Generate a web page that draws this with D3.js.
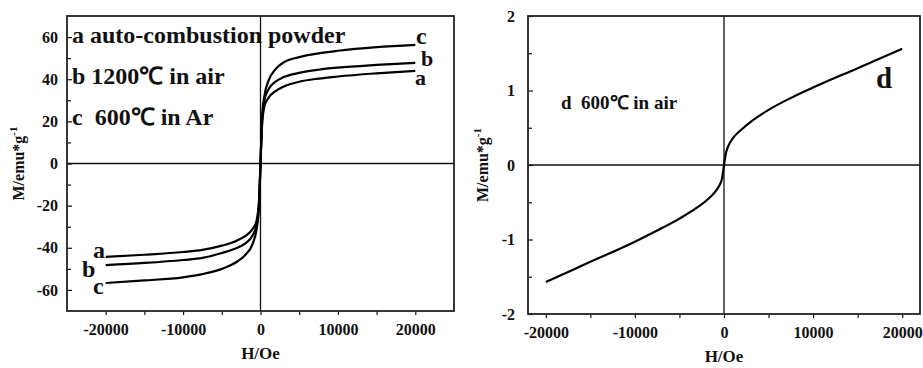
<!DOCTYPE html>
<html><head><meta charset="utf-8">
<script src="https://cdn.jsdelivr.net/npm/d3@7"></script>
<style>
html,body{margin:0;padding:0;background:#fff;}
svg text{font-family:"Liberation Serif","Times New Roman",serif !important;font-weight:bold;fill:#111;}
</style></head>
<body>
<svg id="chart" width="923" height="368"></svg>
<script>
// ---- data ----
const fieldH = [-20000,-15000,-10000,-7500,-5000,-3000,-2000,-1000,-500,-200,0,200,500,1000,2000,3000,5000,7500,10000,15000,20000];
const curveA = [-44.3,-43.3,-42,-41,-39,-36.5,-34.5,-31,-27,-18,0,18,27,31,34.5,36.5,38.8,40.3,41.3,42.8,44];
const curveB = [-48.2,-47.2,-45.8,-44.8,-42.5,-40,-38,-34,-29,-20,0,20,30,35,39,41,43,44.5,45.5,46.8,47.8];
const curveC = [-56.7,-55.5,-54,-52.5,-50,-46.5,-43.5,-38,-31,-21,0,22,32,39,45,48,50.5,52.3,53.5,55.2,56.3];
const curveD = [-1.57,-1.30,-1.03,-0.88,-0.72,-0.57,-0.48,-0.36,-0.27,-0.17,0,0.15,0.26,0.36,0.48,0.58,0.74,0.90,1.04,1.30,1.56];
const xTicks = [-20000,-10000,0,10000,20000];
const xMinor = [-15000,-5000,5000,15000];
const yTicksLeft = [-60,-40,-20,0,20,40,60];
const yMinorLeft = [-50,-30,-10,10,30,50];
const yTicksRight = [-2,-1,0,1,2];
const yMinorRight = [-1.5,-0.5,0.5,1.5];
const legendLeft = ["a auto-combustion powder","b 1200℃ in air","c\u00a0\u00a0600℃ in Ar"];
const legendRight = "d\u00a0\u00a0600℃ in air";

const svg = d3.select("#chart");
const fmt = d => String(d);

function panel(cfg){
  const g = svg.append("g");
  const x = d3.scaleLinear().domain(cfg.xDom).range([cfg.left, cfg.right]);
  const y = d3.scaleLinear().domain(cfg.yDom).range([cfg.bottom, cfg.top]);
  // zero lines
  g.append("line").attr("x1",x(0)).attr("x2",x(0)).attr("y1",cfg.top).attr("y2",cfg.bottom)
    .attr("stroke","#111").attr("stroke-width",1.3);
  g.append("line").attr("x1",cfg.left).attr("x2",cfg.right).attr("y1",y(0)).attr("y2",y(0))
    .attr("stroke","#111").attr("stroke-width",1.3);
  // x axis
  const xa = g.append("g").attr("transform",`translate(0,${cfg.bottom})`)
    .call(d3.axisBottom(x).tickValues(cfg.xTicks).tickSize(4).tickPadding(9).tickFormat(fmt));
  xa.attr("font-family",null);
  xa.select(".domain").remove();
  xa.selectAll("line").attr("stroke","#111").attr("stroke-width",1.2);
  xa.selectAll("text").style("font-size","16px");
  const xm = g.append("g").attr("transform",`translate(0,${cfg.bottom})`)
    .call(d3.axisBottom(x).tickValues(cfg.xMinor).tickSize(4).tickFormat(""));
  xm.select(".domain").remove();
  xm.selectAll("line").attr("stroke","#111").attr("stroke-width",1.2);
  // y axis
  const ya = g.append("g").attr("transform",`translate(${cfg.left},0)`)
    .call(d3.axisLeft(y).tickValues(cfg.yTicks).tickSize(-5).tickPadding(cfg.yPad).tickFormat(fmt));
  ya.attr("font-family",null);
  ya.select(".domain").remove();
  ya.selectAll("line").attr("stroke","#111").attr("stroke-width",1.2);
  ya.selectAll("text").style("font-size","16px");
  const ym = g.append("g").attr("transform",`translate(${cfg.left},0)`)
    .call(d3.axisLeft(y).tickValues(cfg.yMinor).tickSize(-4).tickFormat(""));
  ym.select(".domain").remove();
  ym.selectAll("line").attr("stroke","#111").attr("stroke-width",1.2);
  // frame
  g.append("rect").attr("x",cfg.left).attr("y",cfg.top).attr("width",cfg.right-cfg.left)
    .attr("height",cfg.bottom-cfg.top).attr("fill","none").attr("stroke","#222").attr("stroke-width",1.8);
  // curves
  const line = d3.line().x((d,i)=>x(fieldH[i])).y(d=>y(d)).curve(d3.curveMonotoneX);
  cfg.series.forEach(s=>{
    g.append("path").datum(s).attr("d",line).attr("fill","none").attr("stroke","#000").attr("stroke-width",2.2);
  });
  // axis titles
  g.append("text").attr("x",x(0)).attr("y",cfg.xTitleY).attr("text-anchor","middle")
    .style("font-size","17px").text("H/Oe");
  const yt = g.append("text").attr("transform",`translate(${cfg.yTitleX},${(cfg.top+cfg.bottom)/2}) rotate(-90)`)
    .attr("text-anchor","middle").style("font-size","16px");
  yt.append("tspan").text("M/emu*g");
  yt.append("tspan").attr("dy",-7).style("font-size","11px").text("-1");
  return {g,x,y};
}

const L = panel({left:67,right:454,top:16,bottom:311,xDom:[-25000,25000],yDom:[-70,70],yPad:9,
  xTicks,xMinor,yTicks:yTicksLeft,yMinor:yMinorLeft,series:[curveA,curveB,curveC],xTitleY:359,yTitleX:24});
const R = panel({left:528,right:920,top:16,bottom:314,xDom:[-22000,22000],yDom:[-2,2],yPad:13,
  xTicks,xMinor,yTicks:yTicksRight,yMinor:yMinorRight,series:[curveD],xTitleY:362,yTitleX:488});

// legend text left
[43,84,125].forEach((by,i)=>{
  L.g.append("text").attr("x",72).attr("y",by).style("font-size","24px").text(legendLeft[i]);
});
// curve labels left
const labs = [
  {t:"c",x:416,y:44,s:24},{t:"b",x:421,y:66,s:22},{t:"a",x:415,y:85,s:22},
  {t:"a",x:93,y:258,s:24},{t:"b",x:82,y:277,s:24},{t:"c",x:93,y:294,s:24}
];
labs.forEach(l=>L.g.append("text").attr("x",l.x).attr("y",l.y).style("font-size",l.s+"px").text(l.t));
// right
R.g.append("text").attr("x",561).attr("y",109).style("font-size","19px").text(legendRight);
R.g.append("text").attr("x",876).attr("y",88).style("font-size","29px").text("d");
</script>
</body></html>
